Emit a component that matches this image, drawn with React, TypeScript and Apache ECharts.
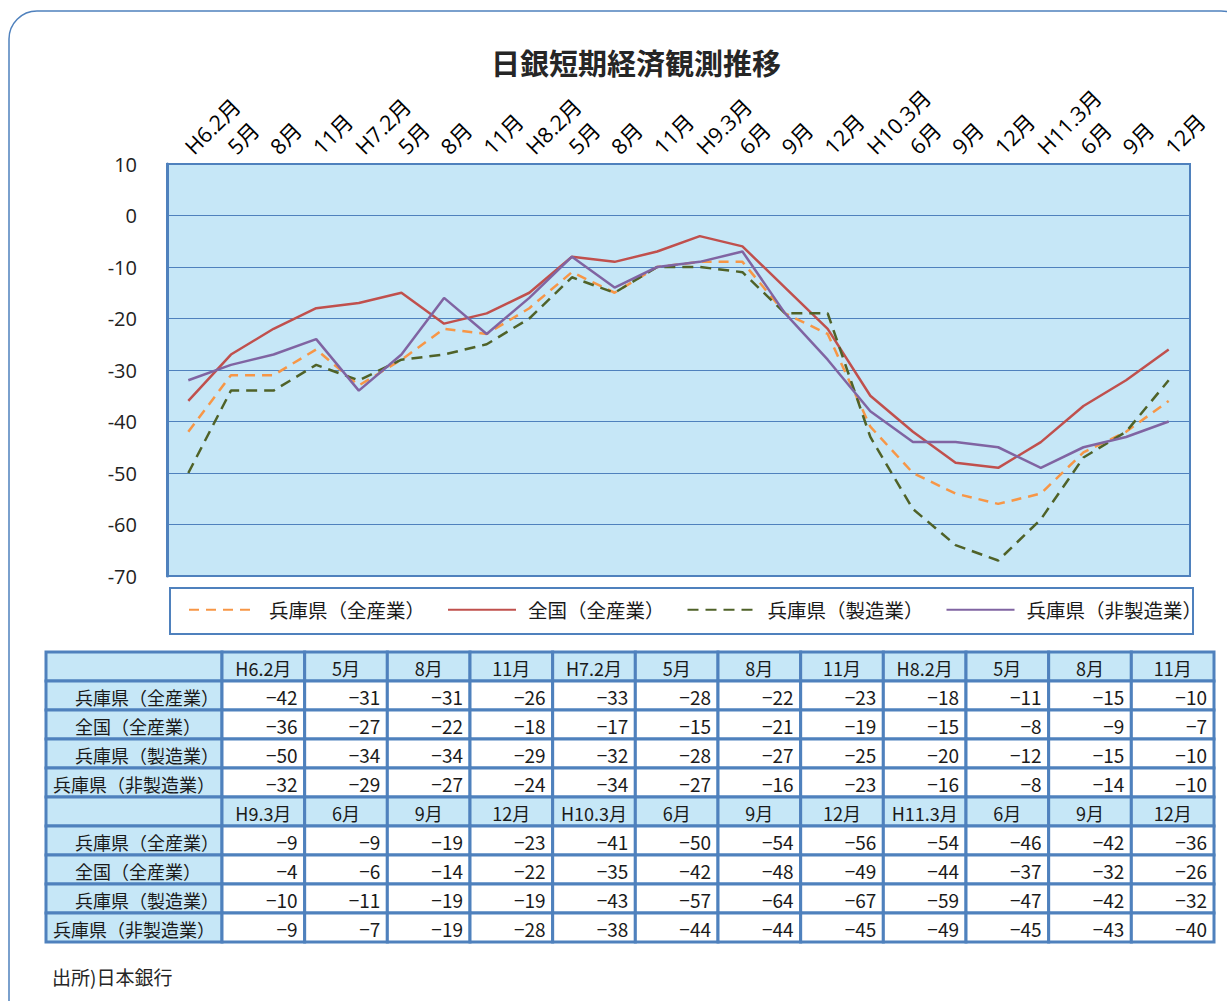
import React, { useEffect, useRef } from "react";
import * as echarts from "echarts";

const chartTitle = "日銀短期経済観測推移";
const sourceNote = "出所)日本銀行";
const categories = [
  "H6.2月", "5月", "8月", "11月", "H7.2月", "5月", "8月", "11月", "H8.2月", "5月", "8月", "11月",
  "H9.3月", "6月", "9月", "12月", "H10.3月", "6月", "9月", "12月", "H11.3月", "6月", "9月", "12月",
];
const seriesNames = ["兵庫県（全産業）", "全国（全産業）", "兵庫県（製造業）", "兵庫県（非製造業）"];
const hyogoAll = [-42, -31, -31, -26, -33, -28, -22, -23, -18, -11, -15, -10, -9, -9, -19, -23, -41, -50, -54, -56, -54, -46, -42, -36];
const nationalAll = [-36, -27, -22, -18, -17, -15, -21, -19, -15, -8, -9, -7, -4, -6, -14, -22, -35, -42, -48, -49, -44, -37, -32, -26];
const hyogoMfg = [-50, -34, -34, -29, -32, -28, -27, -25, -20, -12, -15, -10, -10, -11, -19, -19, -43, -57, -64, -67, -59, -47, -42, -32];
const hyogoNonMfg = [-32, -29, -27, -24, -34, -27, -16, -23, -16, -8, -14, -10, -9, -7, -19, -28, -38, -44, -44, -45, -49, -45, -43, -40];
const yMin = -70;
const yMax = 10;
const yInterval = 10;

const allSeries = [hyogoAll, nationalAll, hyogoMfg, hyogoNonMfg];
const seriesStyles = [
  { color: "#f79646", type: [10, 7] as any },
  { color: "#c0504d", type: "solid" as any },
  { color: "#4f6228", type: [11, 7] as any },
  { color: "#8064a2", type: "solid" as any },
];

const BLUE = "#4f81bd";
const LIGHT = "#c6e7f7";
const JP = "'Noto Sans CJK JP', sans-serif";
const NARROW = "'Liberation Sans Narrow', 'Noto Sans CJK JP', sans-serif";

function fmt(v: number) {
  return v < 0 ? "\u2212" + Math.abs(v) : String(v);
}

function buildTable() {
  const left = 46;
  const labelW = 176;
  const right = 1214;
  const rowH = 29;
  const perBlock = 12;
  const colW = (right - left - labelW) / perBlock;
  const blockTops = [652, 797];
  const labelIndent = [22, 22, 22, 0];
  const rects: any[] = [];
  const texts: any[] = [];
  blockTops.forEach((top, b) => {
    const start = b * perBlock;
    rects.push({ type: "rect", shape: { x: left, y: top, width: labelW, height: rowH }, style: { fill: LIGHT, stroke: BLUE, lineWidth: 3 }, z: 10 });
    for (let i = 0; i < perBlock; i++) {
      const x = left + labelW + i * colW;
      rects.push({ type: "rect", shape: { x, y: top, width: colW, height: rowH }, style: { fill: LIGHT, stroke: BLUE, lineWidth: 3 }, z: 10 });
      texts.push({
        type: "text", x: x + colW / 2, y: top + rowH / 2 + 1, z: 20,
        style: { text: categories[start + i], fontSize: 18, fontFamily: NARROW, fill: "#1a1a1a", align: "center", verticalAlign: "middle" },
      });
    }
    allSeries.forEach((arr, r) => {
      const y = top + rowH * (r + 1);
      rects.push({ type: "rect", shape: { x: left, y, width: labelW, height: rowH }, style: { fill: LIGHT, stroke: BLUE, lineWidth: 3 }, z: 10 });
      texts.push({
        type: "text", x: left + 7 + labelIndent[r], y: y + rowH / 2 + 1, z: 20,
        style: { text: seriesNames[r], fontSize: 18, fontFamily: JP, fill: "#1a1a1a", align: "left", verticalAlign: "middle" },
      });
      for (let i = 0; i < perBlock; i++) {
        const x = left + labelW + i * colW;
        rects.push({ type: "rect", shape: { x, y, width: colW, height: rowH }, style: { fill: "#ffffff", stroke: BLUE, lineWidth: 3 }, z: 10 });
        texts.push({
          type: "text", x: x + colW - 7, y: y + rowH / 2 + 1, z: 20,
          style: { text: fmt(arr[start + i]), fontSize: 19, fontFamily: NARROW, fill: "#1a1a1a", align: "right", verticalAlign: "middle" },
        });
      }
    });
  });
  return [...rects, ...texts];
}

export default function App() {
  const ref = useRef<HTMLDivElement>(null);
  useEffect(() => {
    if (!ref.current) return;
    const chart = echarts.init(ref.current, null, { renderer: "svg" });
    const option: any = {
      animation: false,
      backgroundColor: "#ffffff",
      title: {
        text: chartTitle,
        left: 486,
        top: 42,
        textStyle: { fontSize: 29, fontWeight: "bold", fontFamily: JP, color: "#262626" },
      },
      grid: {
        left: 167, top: 164, width: 1023, height: 412,
        show: true, backgroundColor: LIGHT, borderColor: BLUE, borderWidth: 2,
      },
      legend: {
        left: 188, top: 600,
        itemWidth: 68, itemHeight: 14, itemGap: 22, padding: 0,
        itemStyle: { opacity: 0 },
        textStyle: { fontSize: 19.5, fontFamily: JP, color: "#1a1a1a", padding: [0, 0, 0, 7] },
        data: seriesNames,
      },
      xAxis: {
        type: "category",
        position: "top",
        data: categories,
        boundaryGap: true,
        axisLine: { show: true, onZero: false, lineStyle: { color: BLUE, width: 2 } },
        axisTick: { show: false },
        splitLine: { show: false },
        axisLabel: { interval: 0, rotate: -45, fontSize: 21.5, color: "#000", margin: 14, fontFamily: "'Open Sans', 'Noto Sans CJK JP', sans-serif" },
      },
      yAxis: {
        type: "value",
        min: yMin, max: yMax, interval: yInterval,
        axisLine: { show: true, lineStyle: { color: BLUE, width: 3 } },
        axisTick: { show: false },
        splitLine: { show: true, lineStyle: { color: BLUE, width: 1 } },
        axisLabel: { fontSize: 20, color: "#222", margin: 30, fontFamily: "'Open Sans', sans-serif" },
      },
      series: allSeries.map((arr, i) => ({
        name: seriesNames[i],
        type: "line",
        data: arr,
        symbol: "none",
        showSymbol: false,
        color: seriesStyles[i].color,
        lineStyle: { color: seriesStyles[i].color, width: 2.5, type: seriesStyles[i].type },
        z: 3 + i,
      })),
      graphic: [
        {
          type: "rect", z: -1, silent: true,
          shape: { x: 9, y: 11, width: 1240, height: 1020, r: 28 },
          style: { fill: "none", stroke: BLUE, lineWidth: 1.5 },
        },
        {
          type: "rect", z: -1, silent: true,
          shape: { x: 170, y: 588, width: 1023, height: 46 },
          style: { fill: "#ffffff", stroke: BLUE, lineWidth: 2 },
        },
        ...buildTable(),
        {
          type: "text", x: 52, y: 976,
          style: { text: sourceNote, fontSize: 19, fontFamily: JP, fill: "#262626", align: "left", verticalAlign: "middle" },
        },
      ],
    };
    chart.setOption(option);
    return () => chart.dispose();
  }, []);
  return <div ref={ref} style={{ position: "absolute", left: 0, top: 0, width: 1227, height: 1001 }} />;
}
